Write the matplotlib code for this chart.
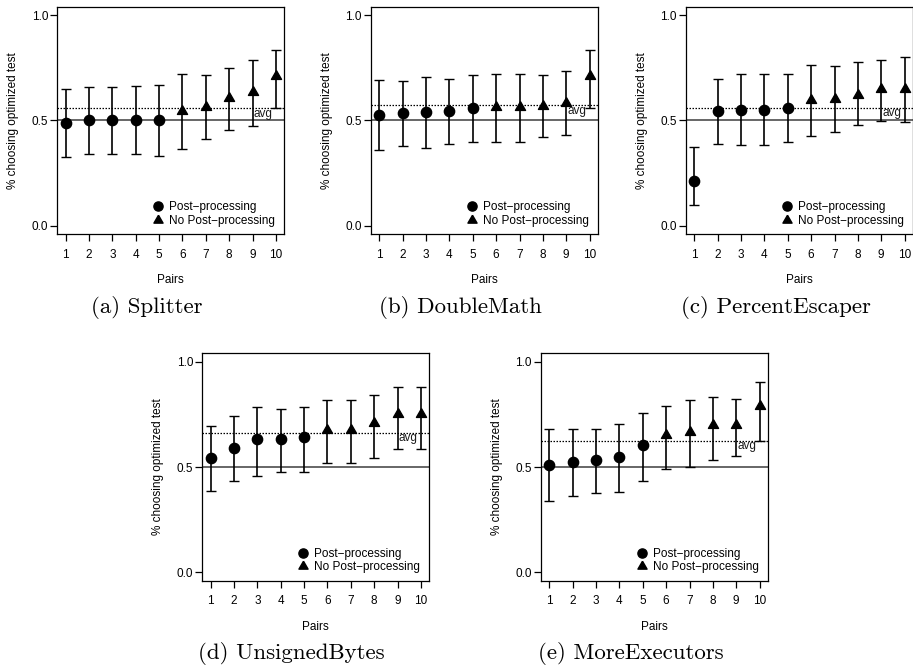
import matplotlib.pyplot as plt
from matplotlib.lines import Line2D

pairs = [1, 2, 3, 4, 5, 6, 7, 8, 9, 10]
n_post = 5  # first 5 pairs are post-processed

names = ["(a) Splitter", "(b) DoubleMath", "(c) PercentEscaper",
         "(d) UnsignedBytes", "(e) MoreExecutors"]

splitter_val = [0.490, 0.500, 0.500, 0.500, 0.500, 0.544, 0.562, 0.606, 0.633, 0.709]
splitter_lo = [0.325, 0.343, 0.343, 0.340, 0.332, 0.365, 0.410, 0.455, 0.474, 0.559]
splitter_hi = [0.651, 0.659, 0.659, 0.663, 0.670, 0.719, 0.716, 0.750, 0.788, 0.836]

doublemath_val = [0.528, 0.536, 0.540, 0.545, 0.561, 0.562, 0.562, 0.571, 0.582, 0.709]
doublemath_lo = [0.359, 0.379, 0.370, 0.389, 0.398, 0.398, 0.398, 0.423, 0.433, 0.558]
doublemath_hi = [0.692, 0.689, 0.706, 0.697, 0.716, 0.720, 0.720, 0.716, 0.736, 0.836]

percent_val = [0.212, 0.545, 0.551, 0.551, 0.561, 0.596, 0.601, 0.620, 0.649, 0.649]
percent_lo = [0.098, 0.389, 0.382, 0.382, 0.398, 0.425, 0.445, 0.477, 0.498, 0.493]
percent_hi = [0.374, 0.695, 0.720, 0.720, 0.720, 0.761, 0.758, 0.779, 0.788, 0.799]

unsigned_val = [0.544, 0.592, 0.632, 0.635, 0.641, 0.676, 0.676, 0.707, 0.752, 0.752]
unsigned_lo = [0.387, 0.432, 0.460, 0.476, 0.479, 0.519, 0.519, 0.541, 0.587, 0.587]
unsigned_hi = [0.697, 0.743, 0.783, 0.776, 0.783, 0.819, 0.819, 0.844, 0.881, 0.881]

executors_val = [0.511, 0.524, 0.533, 0.549, 0.605, 0.650, 0.668, 0.698, 0.698, 0.790]
executors_lo = [0.341, 0.363, 0.378, 0.383, 0.433, 0.489, 0.502, 0.533, 0.551, 0.625]
executors_hi = [0.681, 0.681, 0.681, 0.705, 0.759, 0.790, 0.819, 0.833, 0.824, 0.905]

avgs = [0.558, 0.572, 0.561, 0.663, 0.624]

vals = [splitter_val, doublemath_val, percent_val, unsigned_val, executors_val]
los = [splitter_lo, doublemath_lo, percent_lo, unsigned_lo, executors_lo]
his = [splitter_hi, doublemath_hi, percent_hi, unsigned_hi, executors_hi]

W, H = 913, 668
# axes left / top in pixels
boxes = [(57.3, 6.7), (371, 6.7), (686, 6.7), (202.3, 353.3), (541, 353.3)]
aw, ah = 227, 227.6

# R style triangle (pch 17), centred on its centroid
tri = [(0, 1), (-0.866, -0.5), (0.866, -0.5), (0, 1)]

fs = 8.5
font = "Liberation Sans"

fig = plt.figure(figsize=(W / 100, H / 100), dpi=100)

for k in range(5):
    x0, y0 = boxes[k]
    ax = fig.add_axes([x0 / W, 1 - (y0 + ah) / H, aw / W, ah / H])
    v, lo, hi = vals[k], los[k], his[k]
    yerr = [[v[i] - lo[i] for i in range(10)], [hi[i] - v[i] for i in range(10)]]

    ax.axhline(0.5, color="0.3", lw=1.2, zorder=1)
    ax.axhline(avgs[k], color="black", lw=0.9, ls=(0, (1.2, 1.2)), zorder=1)
    ax.text(9.05, avgs[k] + 0.003, "avg", ha="left", va="top",
            fontsize=fs, family=font, color="0.1")

    ax.errorbar(pairs, v, yerr=yerr, fmt="none", ecolor="black",
                elinewidth=1.2, capsize=3.3, capthick=1.0, zorder=2)
    ax.plot(pairs[:n_post], v[:n_post], "o", color="black", ms=7.4, zorder=3)
    ax.plot(pairs[n_post:], v[n_post:], ls="none", marker=tri, color="black",
            ms=8.4, zorder=3)

    ax.set_xlim(0.64, 10.36)
    ax.set_ylim(-0.04, 1.04)
    ax.set_xticks(pairs)
    ax.set_xticklabels([str(p) for p in pairs], fontsize=fs, family=font)
    ax.set_yticks([0.0, 0.5, 1.0])
    ax.set_yticklabels(["0.0", "0.5", "1.0"], fontsize=fs, family=font)
    ax.tick_params(axis="x", length=5, width=0.9, pad=5.5)
    ax.tick_params(axis="y", length=5, width=0.9, pad=1.5)
    for s in ax.spines.values():
        s.set_linewidth(0.9)

    ax.set_xlabel("Pairs", fontsize=fs, family=font)
    ax.set_ylabel("% choosing optimized test", fontsize=fs, family=font)
    ax.xaxis.set_label_coords(0.5, -45.7 / ah)
    ax.yaxis.set_label_coords(-44 / aw, 0.5)
    ax.xaxis.label.set_va("center")
    ax.yaxis.label.set_va("center")

    handles = [Line2D([], [], ls="none", marker="o", color="black", ms=6.6),
               Line2D([], [], ls="none", marker=tri, color="black", ms=7.6)]
    ax.legend(handles, ["Post\u2212processing", "No Post\u2212processing"],
              loc="lower left", bbox_to_anchor=(0.4176, 0.033), frameon=False,
              borderpad=0, borderaxespad=0, handlelength=1.0, handletextpad=0.43,
              labelspacing=0.13, prop={"family": font, "size": fs})

    cx = x0 + aw / 2 - 24
    cy = y0 + 300.5
    fig.text(cx / W, 1 - cy / H, names[k], ha="center", va="center",
             fontsize=16.5, family="cmr10")

plt.savefig("out.png", dpi=100)
